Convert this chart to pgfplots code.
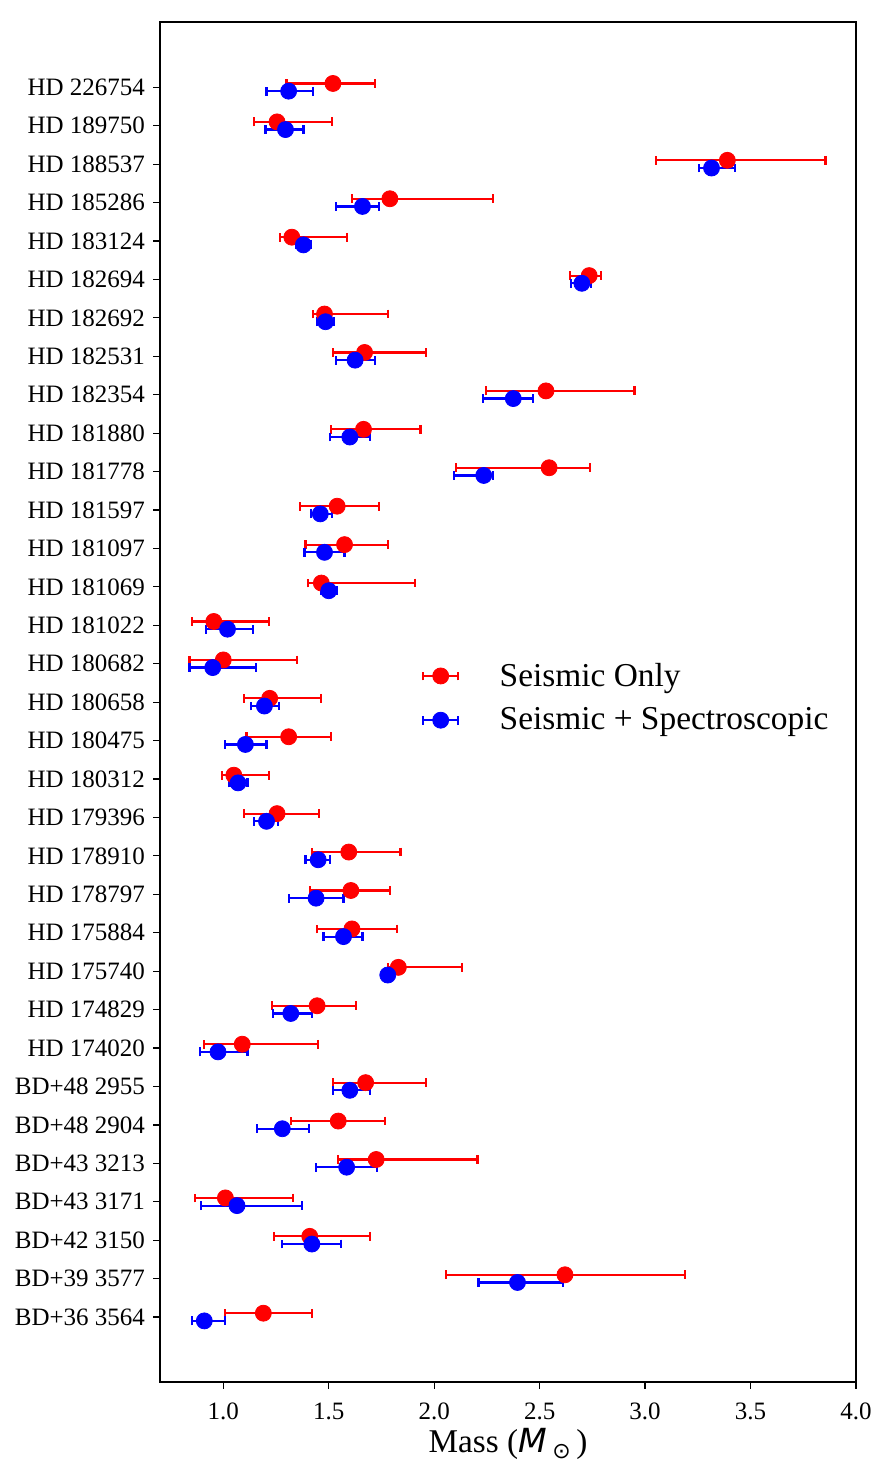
\documentclass[border=0pt]{standalone}
\usepackage{fontspec}
\setmainfont{Liberation Serif}
\newfontfamily\djv{DejaVu Sans}
\usepackage{pgfplots}
\usepackage{pgfplotstable}
\pgfplotsset{compat=1.18}

% Stellar masses: y = row position, m = mass, ep/em = upper/lower uncertainty
\pgfplotstableread{
y     m      ep     em
0.1   1.19   0.23   0.18
1.1   2.62   0.57   0.565
2.1   1.41   0.285  0.17
3.1   1.01   0.32   0.145
4.1   1.725  0.48   0.18
5.1   1.545  0.22   0.225
6.1   1.675  0.285  0.155
7.1   1.09   0.36   0.18
8.1   1.445  0.185  0.215
9.1   1.83   0.30   0.05
10.1  1.61   0.215  0.165
11.1  1.605  0.185  0.195
12.1  1.595  0.245  0.175
13.1  1.255  0.20   0.155
14.1  1.05   0.165  0.055
15.1  1.31   0.20   0.20
16.1  1.22   0.245  0.12
17.1  1.00   0.35   0.16
18.1  0.955  0.26   0.105
19.1  1.465  0.445  0.065
20.1  1.575  0.205  0.185
21.1  1.54   0.20   0.175
22.1  2.545  0.195  0.44
23.1  1.665  0.27   0.155
24.1  2.53   0.42   0.285
25.1  1.67   0.29   0.15
26.1  1.48   0.30   0.055
27.1  2.735  0.055  0.09
28.1  1.325  0.26   0.055
29.1  1.79   0.49   0.18
30.1  3.39   0.465  0.34
31.1  1.255  0.26   0.11
32.1  1.52   0.20   0.22
}\seismic

\pgfplotstableread{
y     m      ep     em
-0.1  0.91   0.10   0.06
0.9   2.395  0.215  0.185
1.9   1.42   0.14   0.14
2.9   1.065  0.31   0.17
3.9   1.585  0.145  0.145
4.9   1.28   0.125  0.12
5.9   1.60   0.095  0.08
6.9   0.975  0.14   0.085
7.9   1.32   0.10   0.085
8.9   1.78   0.02   0.02
9.9   1.57   0.09   0.095
10.9  1.44   0.13   0.13
11.9  1.45   0.055  0.06
12.9  1.205  0.055  0.06
13.9  1.07   0.045  0.04
14.9  1.105  0.10   0.095
15.9  1.195  0.07   0.065
16.9  0.95   0.205  0.11
17.9  1.02   0.12   0.10
18.9  1.50   0.04   0.035
19.9  1.48   0.095  0.095
20.9  1.46   0.055  0.045
21.9  2.235  0.045  0.14
22.9  1.60   0.095  0.095
23.9  2.375  0.095  0.145
24.9  1.625  0.095  0.09
25.9  1.485  0.04   0.04
26.9  2.70   0.045  0.05
27.9  1.38   0.035  0.035
28.9  1.66   0.08   0.125
29.9  3.315  0.11   0.06
30.9  1.295  0.085  0.095
31.9  1.31   0.115  0.105
}\seisspec

% legend symbol: a point with its horizontal error bar
\newcommand\errlegend[1]{%
  \draw[#1, line width=1.1pt] (0pt,0pt) -- (17.5pt,0pt);
  \draw[#1, line width=1.1pt] (0pt,-2.2pt) -- (0pt,2.2pt) (17.5pt,-2.2pt) -- (17.5pt,2.2pt);
  \fill[#1] (8.75pt,0pt) circle (4pt);}

\begin{document}
\begin{tikzpicture}
\useasboundingbox (-80pt,-47pt) rectangle (364pt,691pt);
\begin{axis}[
  at={(0pt,0pt)}, anchor=south west,
  scale only axis, width=348pt, height=680pt,
  xmin=0.7, xmax=4.0, ymin=-1.69, ymax=33.7,
  xtick={1.0,1.5,...,4.0},
  xticklabel style={/pgf/number format/fixed, /pgf/number format/fixed zerofill,
    /pgf/number format/precision=1, /pgf/number format/assume math mode=true},
  ytick={0,...,32},
  yticklabels={BD+36 3564, BD+39 3577, BD+42 3150, BD+43 3171, BD+43 3213,
    BD+48 2904, BD+48 2955, HD 174020, HD 174829, HD 175740, HD 175884,
    HD 178797, HD 178910, HD 179396, HD 180312, HD 180475, HD 180658,
    HD 180682, HD 181022, HD 181069, HD 181097, HD 181597, HD 181778,
    HD 181880, HD 182354, HD 182531, HD 182692, HD 182694, HD 183124,
    HD 185286, HD 188537, HD 189750, HD 226754},
  tick pos=left, tick align=outside,
  major tick length=3.3pt,
  every tick/.style={black, line width=0.6pt},
  axis line style={line width=0.6pt},
  tick label style={font=\fontsize{12.5}{15}\selectfont},
  x tick label style={anchor=base, yshift=-15.5pt},
  y tick label style={anchor=east, inner sep=0pt, xshift=-4pt},
  xlabel={Mass ({\djv\itshape M}\,\raisebox{-0.45ex}{\djv\fontsize{11}{11}\selectfont ⊙}\,)},
  every axis x label/.style={at={(axis description cs:0.5,0)}, anchor=base, yshift=-35pt, font=\fontsize{16.6}{19}\selectfont},
  legend style={at={(rel axis cs:0.376,0.532)}, anchor=north west, draw=none, fill=none,
    inner sep=0pt, font=\fontsize{16.7}{19}\selectfont, row sep=5.3pt,
    /tikz/every odd column/.append style={column sep=18.2pt}},
  legend cell align=left,
]
\addplot[only marks, color=red, mark=*, mark size=4pt, mark options={fill=red, draw=red},
  legend image code/.code={\errlegend{red}},
  error bars/.cd, x dir=both, x explicit,
  error bar style={line width=1.1pt, red},
  error mark options={line width=1.1pt, red, mark size=2.2pt, rotate=90}]
  table[x=m, y=y, x error plus=ep, x error minus=em] {\seismic};
\addlegendentry{Seismic Only}
\addplot[only marks, color=blue, mark=*, mark size=4pt, mark options={fill=blue, draw=blue},
  legend image code/.code={\errlegend{blue}},
  error bars/.cd, x dir=both, x explicit,
  error bar style={line width=1.1pt, blue},
  error mark options={line width=1.1pt, blue, mark size=2.2pt, rotate=90}]
  table[x=m, y=y, x error plus=ep, x error minus=em] {\seisspec};
\addlegendentry{Seismic + Spectroscopic}
\end{axis}
\end{tikzpicture}
\end{document}
